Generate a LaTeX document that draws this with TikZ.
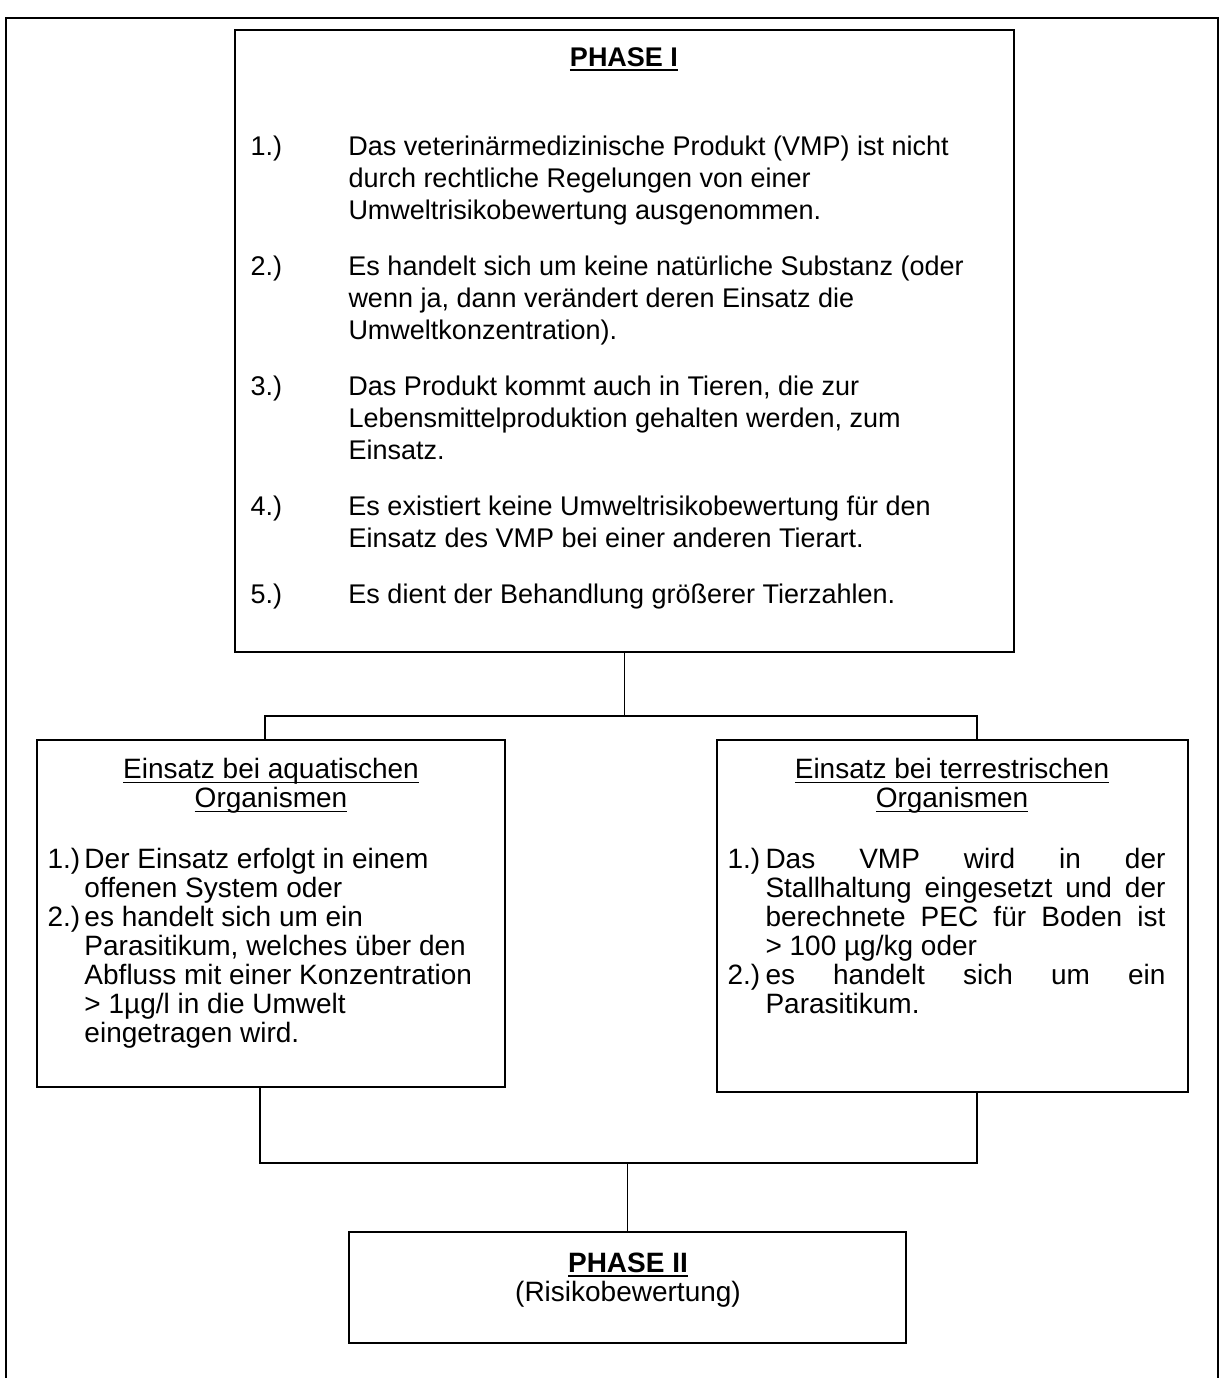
\documentclass[tikz,border=0pt]{standalone}
\usepackage{fontspec}
\setmainfont{Liberation Sans}

\newcommand{\ulbox}[2][1.1pt]{\setbox0=\hbox{#2}\leavevmode\rlap{\rule[-4pt]{\wd0}{#1}}\box0}
\newcommand{\phasefont}{\fontsize{20.25pt}{24pt}\selectfont}
\newcommand{\boxfont}{\fontsize{21pt}{21.75pt}\selectfont}

\tikzset{every picture/.style={line width=0.75pt}}
\tikzset{
  panel/.style={draw, rectangle, line width=1.5pt, inner sep=0pt},
  boxtext/.style={inner sep=0pt, font=\phasefont},
  boxtextb/.style={inner sep=0pt, font=\boxfont},
  conn/.style={line width=1.1pt},
}

\begin{document}
\begin{tikzpicture}[x=0.75pt,y=0.75pt,yscale=-1,xscale=1]
\useasboundingbox (0,0) rectangle (1224,1378);

%Shape: Frame [id:dp5170334829716403] 
\draw [line width=1.5pt]  (6,1378) -- (6,18) -- (1218,18) -- (1218,1378) ;

%Shape: Rectangle [id:dp2281937465002917] 
\node [panel, minimum width=584.25pt, minimum height=466.5pt] (phaseI) at (624.5,341) {};
%Text Node [id:dp7309458861173224] 
\node [boxtext, anchor=base] (phaseItitle) at (624,66) {\bfseries\ulbox[1.6pt]{PHASE I}};
%Text Node [id:dp8836121904125570] 
\node [boxtext, anchor=base west] (phaseIlist) at (250,155) {\begin{tabular}[t]{@{}p{73.5pt}@{}l@{}}
1.) & Das veterinärmedizinische Produkt (VMP) ist nicht\\
 & durch rechtliche Regelungen von einer\\
 & Umweltrisikobewertung ausgenommen.\\[18pt]
2.) & Es handelt sich um keine natürliche Substanz (oder\\
 & wenn ja, dann verändert deren Einsatz die\\
 & Umweltkonzentration).\\[18pt]
3.) & Das Produkt kommt auch in Tieren, die zur\\
 & Lebensmittelproduktion gehalten werden, zum\\
 & Einsatz.\\[18pt]
4.) & Es existiert keine Umweltrisikobewertung für den\\
 & Einsatz des VMP bei einer anderen Tierart.\\[18pt]
5.) & Es dient der Behandlung größerer Tierzahlen.
\end{tabular}};

%Shape: Rectangle [id:dp4418203956617720] 
\node [panel, minimum width=351pt, minimum height=260.25pt] (aqua) at (271,913.5) {};
%Text Node [id:dp0927351846620381] 
\node [boxtextb, anchor=base] (aquatitle) at (271,778) {\begin{tabular}[t]{@{}c@{}}\ulbox{Einsatz bei aquatischen}\\ \ulbox{Organismen}\end{tabular}};
%Text Node [id:dp6652049318873510] 
\node [boxtextb, anchor=base west] (aqualist) at (47,868) {\begin{tabular}[t]{@{}p{27.75pt}@{}l@{}}
1.) & Der Einsatz erfolgt in einem\\
 & offenen System oder\\
2.) & es handelt sich um ein\\
 & Parasitikum, welches über den\\
 & Abfluss mit einer Konzentration\\
 & > 1µg/l in die Umwelt\\
 & eingetragen wird.
\end{tabular}};

%Shape: Rectangle [id:dp3390178254861197] 
\node [panel, minimum width=353.25pt, minimum height=264pt] (terr) at (952.5,916) {};
%Text Node [id:dp1570433982746011] 
\node [boxtextb, anchor=base] (terrtitle) at (952,778) {\begin{tabular}[t]{@{}c@{}}\ulbox{Einsatz bei terrestrischen}\\ \ulbox{Organismen}\end{tabular}};
%Text Node [id:dp9041775236581132] 
\node [boxtextb, anchor=base west] (terrlist) at (727,868) {\begin{tabular}[t]{@{}p{28.5pt}@{}l@{}}
1.) & \makebox[300pt][s]{Das VMP wird in der}\\
 & \makebox[300pt][s]{Stallhaltung eingesetzt und der}\\
 & \makebox[300pt][s]{berechnete PEC für Boden ist}\\
 & > 100 µg/kg oder\\
2.) & \makebox[300pt][s]{es handelt sich um ein}\\
 & Parasitikum.
\end{tabular}};

%Shape: Rectangle [id:dp6127745093881426] 
\node [panel, minimum width=417.75pt, minimum height=83.25pt] (phaseII) at (627.5,1287.5) {};
%Text Node [id:dp2853316079402271] 
\node [boxtextb, anchor=base] (phaseIItitle) at (628,1272) {\begin{tabular}[t]{@{}c@{}}\bfseries\ulbox[1.6pt]{PHASE II}\\ (Risikobewertung)\end{tabular}};

\coordinate (splitI) at (624.5,716) ;
\coordinate (joinII) at (627.5,1163) ;

%Straight Lines [id:da3065181274413352] 
\draw [conn]  (phaseI.south) -- (splitI) ;
%Straight Lines [id:da8179402655203316] 
\draw [conn]  ([xshift=-4.5pt]aqua.north) |- (splitI) -| ([xshift=18.4pt]terr.north) ;
%Straight Lines [id:da5521890367134409] 
\draw [conn]  ([xshift=-8.25pt]aqua.south) |- (joinII) -| ([xshift=18.4pt]terr.south) ;
%Straight Lines [id:da1948263350716524] 
\draw [conn]  (joinII) -- (phaseII.north) ;

\end{tikzpicture}
\end{document}
